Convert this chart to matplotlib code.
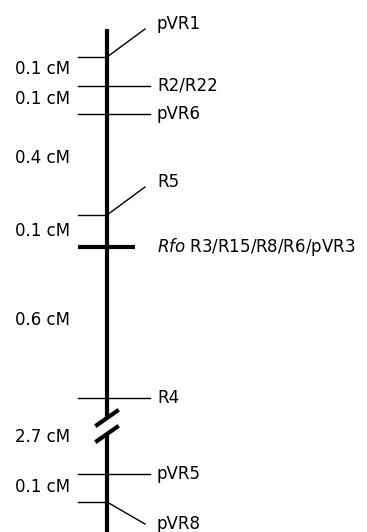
import matplotlib
matplotlib.use('Agg')
import matplotlib.pyplot as plt

# markers along the linkage group (top to bottom)
markers = ['pVR1', 'R2/R22', 'pVR6', 'R5', r'$\mathit{Rfo}$ R3/R15/R8/R6/pVR3', 'R4', 'pVR5', 'pVR8']
# how each marker is drawn: 'up'/'down' = bent leader, 'flat' = straight, 'locus' = thick bar
marker_kind = ['up', 'flat', 'flat', 'up', 'locus', 'flat', 'flat', 'down']
# genetic distances between neighbouring markers
intervals = ['0.1 cM', '0.1 cM', '0.4 cM', '0.1 cM', '0.6 cM', '2.7 cM', '0.1 cM']

# layout (pixel coords of the original drawing)
marker_y = [57, 86, 114, 215, 247, 398, 474, 502]
interval_y = [69, 99, 158, 231, 320, 437, 487]
chrom_x = 107
tick_left = 78
tick_right = 150
label_x = 157
font = 'DejaVu Sans'
fsize = 12


def draw_map(ax):
    # chromosome bar with a break between R4 and pVR5
    ax.plot([chrom_x, chrom_x], [29, 419], color='black', lw=3, solid_capstyle='butt')
    ax.plot([chrom_x, chrom_x], [434, 532], color='black', lw=3, solid_capstyle='butt')
    ax.plot([97, 117], [425, 411], color='black', lw=3)
    ax.plot([97, 117], [441, 427], color='black', lw=3)

    for name, kind, y in zip(markers, marker_kind, marker_y):
        if kind == 'flat':
            ax.plot([tick_left, tick_right], [y, y], color='black', lw=1)
            ty = y
        elif kind == 'locus':
            ax.plot([tick_left, 135], [y, y], color='black', lw=3, solid_capstyle='butt')
            ty = y
        elif kind == 'up':
            ax.plot([tick_left, chrom_x], [y, y], color='black', lw=1)
            ax.plot([chrom_x, 145], [y, y - 28], color='black', lw=1)
            ty = y - 33
        else:
            ax.plot([tick_left, chrom_x], [y, y], color='black', lw=1)
            ax.plot([chrom_x, 145], [y, y + 22], color='black', lw=1)
            ty = y + 22
        ax.text(label_x, ty, name, ha='left', va='center', fontsize=fsize, family=font)

    for lab, y in zip(intervals, interval_y):
        ax.text(70, y, lab, ha='right', va='center', fontsize=fsize, family=font)


def main():
    fig = plt.figure(figsize=(3.67, 5.32), dpi=100)
    ax = fig.add_axes([0, 0, 1, 1])
    ax.set_xlim(0, 367)
    ax.set_ylim(532, 0)
    ax.axis('off')
    draw_map(ax)
    fig.savefig('out.png', dpi=100)


if __name__ == '__main__':
    main()
